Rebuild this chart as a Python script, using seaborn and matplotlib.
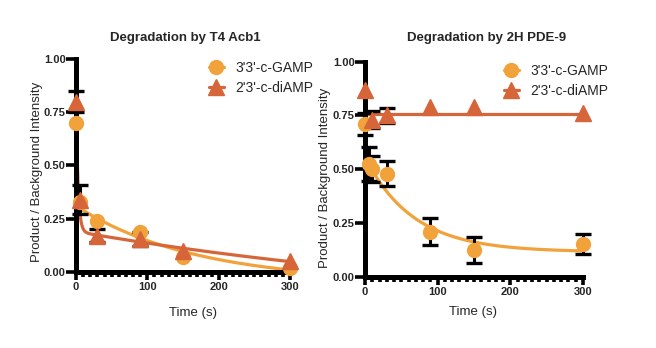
import numpy as np
import pandas as pd
import matplotlib
matplotlib.use("Agg")
import matplotlib.pyplot as plt
from matplotlib.ticker import MultipleLocator
import seaborn as sns

# ---- measured points -------------------------------------------------------
time_acb1 = [0, 5, 30, 90, 150, 300]
gamp_acb1 = [0.70, 0.33, 0.24, 0.19, 0.07, 0.02]
gamp_acb1_sd = [0, 0, 0, 0, 0, 0]
diamp_acb1 = [0.80, 0.34, 0.17, 0.155, 0.10, 0.05]
diamp_acb1_sd = [0.05, 0.07, 0.03, 0.035, 0, 0]

time_pde_gamp = [0, 5, 10, 30, 90, 150, 300]
gamp_pde = [0.71, 0.525, 0.50, 0.478, 0.209, 0.124, 0.152]
gamp_pde_sd = [0.05, 0.08, 0.06, 0.058, 0.062, 0.061, 0.048]
time_pde_diamp = [0, 10, 30, 90, 150, 300]
diamp_pde = [0.87, 0.73, 0.75, 0.79, 0.79, 0.76]
diamp_pde_sd = [0, 0.04, 0.035, 0, 0, 0]

# ---- fitted decay models: plateau, slow amp, slow k, fast amp, fast k -------
fit_gamp_acb1 = [-0.05, 0.36, 0.006, 0.39, 0.8]
fit_diamp_acb1 = [-0.20, 0.39, 0.0015, 0.61, 0.35]
fit_gamp_pde = [0.115, 0.44, 0.015, 0.155, 0.5]
fit_diamp_pde = [0.755, 0.0, 0.0, 0.0, 0.0]

series_names = ["3'3'-c-GAMP", "2'3'-c-diAMP"]
titles = ["Degradation by T4 Acb1", "Degradation by 2H PDE-9"]
y_ticks = [0.0, 0.25, 0.50, 0.75, 1.00]
x_ticks = [0, 100, 200, 300]

C_GAMP = "#F2A23A"
C_DIAMP = "#D7653A"

sns.set_style("ticks")
plt.rcParams["font.family"] = ["Liberation Sans", "DejaVu Sans"]


def two_phase(t, p):
    plateau, a1, k1, a2, k2 = p
    return plateau + a1 * np.exp(-k1 * t) + a2 * np.exp(-k2 * t)


def draw_panel(ax, series):
    t_fit = np.linspace(0, 300, 601)
    for name, t, y, sd, fit, color, marker, ms in series:
        curve = pd.DataFrame({"t": t_fit, "y": two_phase(t_fit, fit)})
        sns.lineplot(data=curve, x="t", y="y", ax=ax, color=color, lw=2.3,
                     zorder=2, legend=False)
        t = np.asarray(t, float)
        y = np.asarray(y, float)
        sd = np.asarray(sd, float)
        m = sd > 0
        if m.any():
            ax.errorbar(t[m], y[m], yerr=sd[m], fmt="none", ecolor="black",
                        elinewidth=2.2, capsize=5.5, capthick=2.4, zorder=3,
                        clip_on=False)
        ax.plot(t, y, linestyle="none", marker=marker, ms=ms, color=color,
                mec=color, zorder=4, clip_on=False)
        # legend proxy: marker with a short line through it
        ax.plot([], [], color=color, lw=2.3, marker=marker, ms=ms, label=name)

    ax.set_xlim(0, 300)
    ax.set_ylim(0, 1.0)
    ax.set_xticks(x_ticks)
    ax.set_yticks(y_ticks)
    ax.set_yticklabels([f"{v:.2f}" for v in y_ticks])
    ax.xaxis.set_minor_locator(MultipleLocator(10))
    ax.set_xlabel("")
    ax.set_ylabel("")
    for side in ("top", "right"):
        ax.spines[side].set_visible(False)
    for side in ("left", "bottom"):
        ax.spines[side].set_linewidth(3.6)
        ax.spines[side].set_color("black")
    ax.tick_params(axis="y", which="major", length=7, width=2.6, pad=0.5,
                   labelsize=8, color="black")
    ax.tick_params(axis="x", which="major", length=6, width=2.6, pad=1.5,
                   labelsize=8, color="black")
    ax.tick_params(axis="x", which="minor", length=3.5, width=2.6, color="black")
    for lab in ax.get_xticklabels() + ax.get_yticklabels():
        lab.set_fontweight("bold")


fig = plt.figure(figsize=(6.56, 3.48), dpi=100)
ax1 = fig.add_axes([0.1159, 0.2184, 0.3262, 0.6121])
ax2 = fig.add_axes([0.5564, 0.2049, 0.3323, 0.6178])

draw_panel(ax1, [
    (series_names[0], time_acb1, gamp_acb1, gamp_acb1_sd, fit_gamp_acb1, C_GAMP, "o", 10),
    (series_names[1], time_acb1, diamp_acb1, diamp_acb1_sd, fit_diamp_acb1, C_DIAMP, "^", 11),
])
draw_panel(ax2, [
    (series_names[0], time_pde_gamp, gamp_pde, gamp_pde_sd, fit_gamp_pde, C_GAMP, "o", 10),
    (series_names[1], time_pde_diamp, diamp_pde, diamp_pde_sd, fit_diamp_pde, C_DIAMP, "^", 11),
])

for ax, (lx, ly) in ((ax1, (0.318, 0.825)), (ax2, (0.768, 0.816))):
    ax.legend(loc="upper left", bbox_to_anchor=(lx, ly),
              bbox_transform=fig.transFigure, frameon=False, fontsize=10,
              handlelength=1.1, handletextpad=0.8, borderpad=0,
              borderaxespad=0, labelspacing=0.45)

fig.text(0.2828, 0.891, titles[0], ha="center", va="center",
         fontsize=9.5, fontweight="bold")
fig.text(0.741, 0.890, titles[1], ha="center", va="center",
         fontsize=9.5, fontweight="bold")
for x, y in ((0.0564, 0.506), (0.4954, 0.489)):
    fig.text(x, y, "Product / Background Intensity", rotation=90,
             ha="center", va="center", fontsize=9.5)
for x, y in ((0.294, 0.1006), (0.721, 0.103)):
    fig.text(x, y, "Time (s)", ha="center", va="center", fontsize=9.5)

fig.savefig("out.png", dpi=100)
